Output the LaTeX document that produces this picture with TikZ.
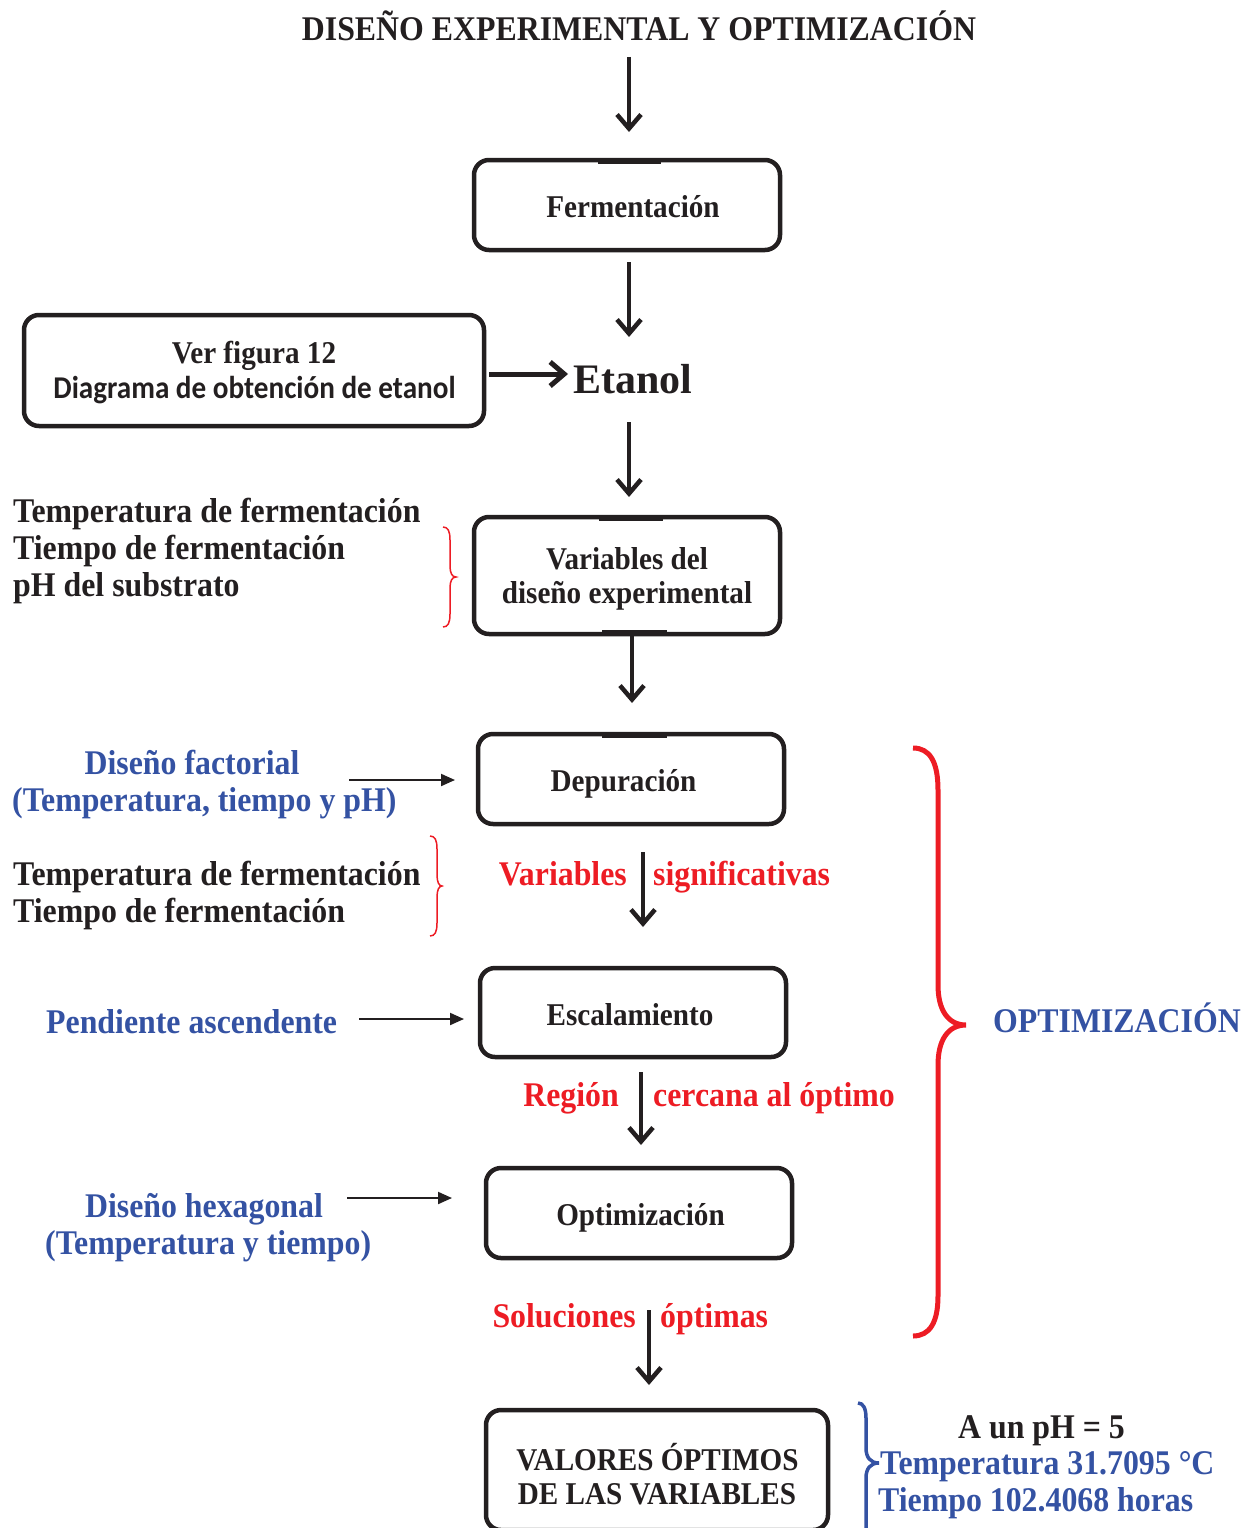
\documentclass[tikz,border=0pt]{standalone}
\usepackage{fontspec}
\usetikzlibrary{arrows.meta}
\newfontfamily\tnr{Liberation Serif}[FakeStretch=0.92]
\newfontfamily\tnrw{Liberation Serif}
\newfontfamily\carl{Carlito}[FakeStretch=0.92]
\definecolor{ink}{RGB}{35,31,32}
\definecolor{tblue}{RGB}{52,82,163}
\definecolor{tred}{RGB}{237,28,36}
\begin{document}
\begin{tikzpicture}[x=1pt,y=-1pt,
  box/.style={draw=ink, line width=4.5pt, rounded corners=15pt, inner sep=0pt},
  big/.style={font=\tnr\bfseries\fontsize{34.6}{37}\selectfont, inner sep=0pt, text=ink},
  small/.style={font=\tnr\bfseries\fontsize{31.7}{34}\selectfont, inner sep=0pt, text=ink},
  arr/.style={draw=ink, line width=4.5pt, -{Straight Barb[length=14pt,width=24pt]}},
  harr/.style={draw=ink, line width=5pt, -{Straight Barb[length=14pt,width=24pt]}},
  thinarr/.style={draw=ink, line width=2pt, -{Triangle[length=14pt,width=12pt]}},
  topmark/.style={draw=ink, line width=6.5pt},
  bracered/.style={draw=tred, line width=1.5pt},
]
\useasboundingbox (0,0) rectangle (1244,1528);

% title
\node[big, anchor=base] (title) at (639,41) {DISEÑO EXPERIMENTAL Y OPTIMIZACIÓN};

% boxes
\node[box, minimum width=306pt, minimum height=90pt] (ferm) at (627,205) {};
\node[box, minimum width=460pt, minimum height=111pt] (ver) at (254,370.5) {};
\node[box, minimum width=306pt, minimum height=117pt] (vars) at (627,575.5) {};
\node[box, minimum width=306pt, minimum height=90pt] (dep) at (631,779) {};
\node[box, minimum width=306pt, minimum height=89pt] (esc) at (633,1012.5) {};
\node[box, minimum width=306pt, minimum height=90pt] (opt) at (639,1213) {};
\node[box, minimum width=342pt, minimum height=120pt] (val) at (657,1470) {};

% marks on box borders
\draw[topmark] (598,161) -- (661,161);
\draw[topmark] (599,518) -- (663,518);
\draw[topmark] (602,633) -- (667,633);
\draw[topmark] (602,735) -- (667,735);

% box texts
\node[small, anchor=base] (fermT) at (633,217.5) {Fermentación};
\node[small, anchor=base] (verT1) at (254,363.5) {Ver figura 12};
\node[font=\carl\bfseries\fontsize{31.7}{34}\selectfont, inner sep=0pt, text=ink, anchor=base] (verT2) at (254.5,398) {Diagrama de obtención de etanol};
\node[small, anchor=base] (varsT1) at (627,569.5) {Variables del};
\node[small, anchor=base] (varsT2) at (627,603.5) {diseño experimental};
\node[small, anchor=base] (depT) at (623.5,791.5) {Depuración};
\node[small, anchor=base] (escT) at (630,1025.5) {Escalamiento};
\node[small, anchor=base] (optT) at (640.5,1225.5) {Optimización};
\node[small, anchor=base] (valT1) at (657.5,1470.5) {VALORES ÓPTIMOS};
\node[small, anchor=base] (valT2) at (657,1504.5) {DE LAS VARIABLES};

% Etanol
\node[font=\tnrw\bfseries\fontsize{42}{46}\selectfont, inner sep=0pt, text=ink, anchor=base west] (etanol) at (573,393) {Etanol};

% left texts group 1
\node[big, anchor=base west] (l1a) at (13,522) {Temperatura de fermentación};
\node[big, anchor=base west] (l1b) at (13,559) {Tiempo de fermentación};
\node[big, anchor=base west] (l1c) at (13,596) {pH del substrato};

% left texts group 2
\node[big, anchor=base west] (l2a) at (13,885.5) {Temperatura de fermentación};
\node[big, anchor=base west] (l2b) at (13,922.5) {Tiempo de fermentación};

% blue texts
\node[big, text=tblue, anchor=base] (df1) at (192,774.5) {Diseño factorial};
\node[big, text=tblue, anchor=base west] (df2) at (12,811.5) {(Temperatura, tiempo y pH)};
\node[big, text=tblue, anchor=base west] (pend) at (46,1033.5) {Pendiente ascendente};
\node[big, text=tblue, anchor=base] (dh1) at (204,1217.5) {Diseño hexagonal};
\node[big, text=tblue, anchor=base west] (dh2) at (45,1254.5) {(Temperatura y tiempo)};
\node[big, text=tblue, anchor=base west] (optim) at (993,1032.5) {OPTIMIZACIÓN};

% red texts
\node[big, text=tred, anchor=base east] (r1a) at (627,885.5) {Variables};
\node[big, text=tred, anchor=base west] (r1b) at (653,885.5) {significativas};
\node[big, text=tred, anchor=base east] (r2a) at (619,1106.5) {Región};
\node[big, text=tred, anchor=base west] (r2b) at (653,1106.5) {cercana al óptimo};
\node[big, text=tred, anchor=base east] (r3a) at (636,1327.5) {Soluciones};
\node[big, text=tred, anchor=base west] (r3b) at (660,1327.5) {óptimas};

% result texts
\node[big, anchor=base] (ph) at (1041.5,1438.5) {A un pH = 5};
\node[big, text=tblue, anchor=base west] (res1) at (880,1474.5) {Temperatura 31.7095 °C};
\node[big, text=tblue, anchor=base west] (res2) at (878,1511.5) {Tiempo 102.4068 horas};

% arrow end points
\coordinate (a1s) at (629,57);   \coordinate (a1e) at (629,132);
\coordinate (a2s) at (629,262);  \coordinate (a2e) at (629,337);
\coordinate (a3s) at (489,374);  \coordinate (a3e) at (568,374);
\coordinate (a4s) at (629,422);  \coordinate (a4e) at (629,497);
\coordinate (a5s) at (632,634);  \coordinate (a5e) at (632,703);
\coordinate (a6s) at (643,852);  \coordinate (a6e) at (643,927);
\coordinate (a7s) at (641,1072); \coordinate (a7e) at (641,1145);
\coordinate (a8s) at (649,1310); \coordinate (a8e) at (649,1385);
\coordinate (b1s) at (349,780);  \coordinate (b1e) at (455,780);
\coordinate (b2s) at (359,1019); \coordinate (b2e) at (464,1019);
\coordinate (b3s) at (347,1198); \coordinate (b3e) at (452,1198);

\draw[arr] (a1s) -- (a1e);
\draw[arr] (a2s) -- (a2e);
\draw[harr] (a3s) -- (a3e);
\draw[arr] (a4s) -- (a4e);
\draw[arr] (a5s) -- (a5e);
\draw[arr] (a6s) -- (a6e);
\draw[arr] (a7s) -- (a7e);
\draw[arr] (a8s) -- (a8e);
\draw[thinarr] (b1s) -- (b1e);
\draw[thinarr] (b2s) -- (b2e);
\draw[thinarr] (b3s) -- (b3e);

% small red braces
\draw[bracered] (443,527) .. controls (448,527) and (450,531) .. (450,540)
  -- (450,566) .. controls (450,573) and (452,577) .. (456,577)
  .. controls (452,577) and (450,581) .. (450,588)
  -- (450,614) .. controls (450,623) and (448,627) .. (443,627);
\draw[bracered] (430,836) .. controls (435,836) and (437,840) .. (437,849)
  -- (437,875) .. controls (437,882) and (439,886) .. (442,886)
  .. controls (439,886) and (437,890) .. (437,897)
  -- (437,923) .. controls (437,932) and (435,936) .. (430,936);

% big red brace
\draw[draw=tred, line width=5pt] (913,748) .. controls (930,748) and (938,762) .. (938,790)
  -- (938,985) .. controls (938,1010) and (948,1025) .. (966,1025)
  .. controls (948,1025) and (938,1040) .. (938,1065)
  -- (938,1296) .. controls (938,1322) and (930,1336) .. (913,1336);

% blue brace
\draw[draw=tblue, line width=3.5pt] (858,1403) .. controls (863,1403) and (866,1408) .. (866,1418)
  -- (866,1448) .. controls (866,1457) and (870,1463) .. (879,1463)
  .. controls (870,1463) and (866,1469) .. (866,1478) -- (866,1535);
\end{tikzpicture}
\end{document}
